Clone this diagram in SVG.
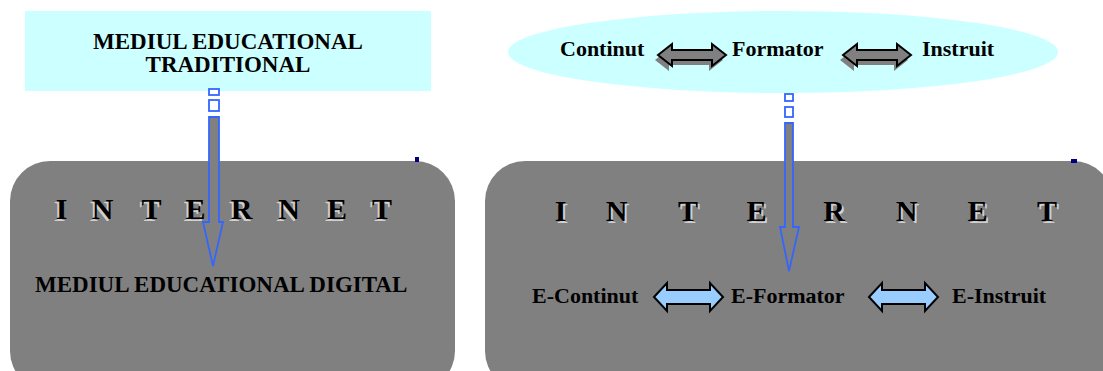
<svg xmlns="http://www.w3.org/2000/svg" width="1103" height="371" viewBox="0 0 1103 371">
  <style>
    .lbl { font-family: "Liberation Serif", "Times New Roman", serif; font-weight: bold; font-size: 22px; fill: #000; }
    .big { font-size: 23px; }
    .net { font-family: "Liberation Serif", "Times New Roman", serif; font-weight: bold; font-size: 30px; text-anchor: middle; }
    .net-sh { fill: #d0d0d0; }
    .net-fg { fill: #000; }
    .panel { fill: #808080; }
    .cloud { fill: #ccffff; }
    .dbl-gray { fill: #808080; stroke: #000; stroke-width: 2; stroke-linejoin: miter; }
    .dbl-shadow { fill: #808080; }
    .dbl-blue { fill: #99ccff; stroke: #000; stroke-width: 2; stroke-linejoin: miter; }
    .down { fill: #808080; stroke: #3366ff; stroke-width: 1.8; }
    .tick { fill: #fff; stroke: #3366ff; stroke-width: 1.8; }
    .mark { fill: #000080; }
  </style>
  <defs>
    <!-- double-headed block arrows, origin at the left tip / centre line -->
    <path id="dblSmall" d="M0,0 L14,-11 L14,-5 L54,-5 L54,-11 L68,0 L54,11 L54,5 L14,5 L14,11 Z"/>
    <path id="dblLarge" d="M0,0 L13,-14 L13,-7 L56,-7 L56,-14 L69,0 L56,14 L56,7 L13,7 L13,14 Z"/>
  </defs>

  <!-- traditional environment -->
  <g id="traditional">
    <rect class="cloud" x="25" y="11" width="406" height="80"/>
    <text class="lbl big" x="228" y="49" text-anchor="middle">MEDIUL EDUCATIONAL</text>
    <text class="lbl big" x="228" y="72" text-anchor="middle">TRADITIONAL</text>
  </g>

  <!-- digital environment -->
  <g id="internet-left">
    <rect class="panel" x="10" y="161" width="445" height="230" rx="40" ry="40"/>
    <rect class="mark" x="415" y="157" width="4" height="5"/>
    <g class="net net-sh" transform="translate(-2,2)">
      <text x="61.5" y="219">I</text><text x="102.5" y="219">N</text><text x="151.5" y="219">T</text><text x="195.5" y="219">E</text>
      <text x="241.5" y="219">R</text><text x="289" y="219">N</text><text x="337" y="219">E</text><text x="382" y="219">T</text>
    </g>
    <g class="net net-fg">
      <text x="61.5" y="219">I</text><text x="102.5" y="219">N</text><text x="151.5" y="219">T</text><text x="195.5" y="219">E</text>
      <text x="241.5" y="219">R</text><text x="289" y="219">N</text><text x="337" y="219">E</text><text x="382" y="219">T</text>
    </g>
    <text class="lbl big" x="35" y="292">MEDIUL EDUCATIONAL DIGITAL</text>
  </g>

  <!-- traditional roles -->
  <g id="roles">
    <ellipse class="cloud" cx="783" cy="52" rx="275" ry="41"/>
    <use href="#dblSmall" class="dbl-shadow" transform="translate(655,60)"/>
    <use href="#dblSmall" class="dbl-shadow" transform="translate(840,60)"/>
    <use href="#dblSmall" class="dbl-gray" transform="translate(658,55)"/>
    <use href="#dblSmall" class="dbl-gray" transform="translate(843,55)"/>
    <text class="lbl" x="560" y="56">Continut</text>
    <text class="lbl" x="732" y="56">Formator</text>
    <text class="lbl" x="922" y="56">Instruit</text>
  </g>

  <!-- e-roles -->
  <g id="internet-right">
    <rect class="panel" x="485" y="161" width="628" height="230" rx="40" ry="40"/>
    <rect class="mark" x="1071" y="159" width="6" height="4"/>
    <g class="net net-sh" transform="translate(2,1.5)">
      <text x="560.5" y="221">I</text><text x="616.5" y="221">N</text><text x="688" y="221">T</text><text x="756.5" y="221">E</text>
      <text x="834" y="221">R</text><text x="906.5" y="221">N</text><text x="977.5" y="221">E</text><text x="1047" y="221">T</text>
    </g>
    <g class="net net-fg">
      <text x="560.5" y="221">I</text><text x="616.5" y="221">N</text><text x="688" y="221">T</text><text x="756.5" y="221">E</text>
      <text x="834" y="221">R</text><text x="906.5" y="221">N</text><text x="977.5" y="221">E</text><text x="1047" y="221">T</text>
    </g>
    <use href="#dblLarge" class="dbl-blue" transform="translate(654,297)"/>
    <use href="#dblLarge" class="dbl-blue" transform="translate(869,297)"/>
    <text class="lbl" x="532" y="303">E-Continut</text>
    <text class="lbl" x="731" y="303">E-Formator</text>
    <text class="lbl" x="952" y="303">E-Instruit</text>
  </g>

  <!-- transition arrows -->
  <g id="connectors">
    <rect class="tick" x="209" y="89" width="10" height="6"/>
    <rect class="tick" x="209" y="100" width="10" height="11"/>
    <path class="down" d="M209,117 L219,117 L219,222 L223,222 L213,266 L203,222 L209,222 Z"/>
    <rect class="tick" x="785" y="94" width="8" height="7"/>
    <rect class="tick" x="785" y="107" width="8" height="10"/>
    <path class="down" d="M785,123 L793,123 L793,227 L799,227 L789,271 L780,227 L785,227 Z"/>
  </g>
</svg>
